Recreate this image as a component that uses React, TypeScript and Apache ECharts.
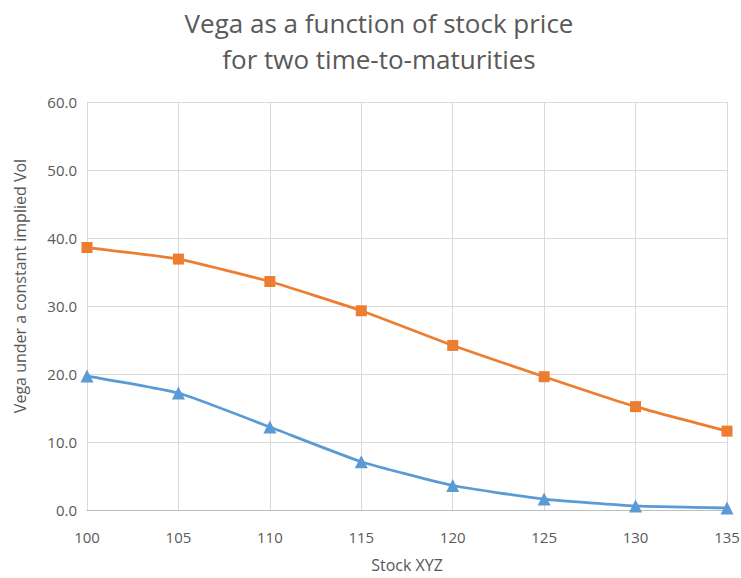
import React, { useEffect, useRef } from "react";
import * as echarts from "echarts";

const categories = ["100", "105", "110", "115", "120", "125", "130", "135"];
const longMaturity = [38.6, 36.9, 33.6, 29.3, 24.2, 19.6, 15.2, 11.6];
const shortMaturity = [19.7, 17.2, 12.2, 7.1, 3.6, 1.6, 0.6, 0.3];
const yTicks = { min: 0, max: 60, interval: 10 };

export default function App() {
  const ref = useRef<HTMLDivElement>(null);
  useEffect(() => {
    const chart = echarts.init(ref.current!, null, { renderer: "svg" });
    const font = "'Open Sans', 'Liberation Sans', sans-serif";
    chart.setOption({
      animation: false,
      backgroundColor: "#ffffff",
      title: {
        text: "Vega as a function of stock price\nfor two time-to-maturities",
        left: 374,
        textAlign: "center",
        top: 0,
        textStyle: {
          fontFamily: font,
          fontSize: 26,
          fontWeight: "normal",
          color: "#595959",
          lineHeight: 36,
        },
      },
      graphic: [
        {
          type: "text",
          x: 20,
          y: 286,
          rotation: Math.PI / 2,
          style: {
            text: "Vega under a constant implied Vol",
            fontFamily: font,
            fontSize: 16,
            fill: "#595959",
            align: "center",
            verticalAlign: "middle",
          },
        },
      ],
      grid: { left: 87, right: 14, top: 102, bottom: 68, containLabel: false, outerBoundsMode: "none" },
      xAxis: {
        type: "category",
        data: categories,
        boundaryGap: false,
        name: "Stock XYZ",
        nameLocation: "middle",
        nameGap: 47,
        nameTextStyle: { fontFamily: font, fontSize: 16, color: "#595959" },
        axisLine: { show: true, lineStyle: { color: "#bfbfbf", width: 1 } },
        axisTick: { show: false },
        axisLabel: { fontFamily: font, fontSize: 15, color: "#595959", margin: 19 },
        splitLine: { show: true, lineStyle: { color: "#d9d9d9", width: 1 } },
      },
      yAxis: {
        type: "value",
        min: yTicks.min,
        max: yTicks.max,
        interval: yTicks.interval,
        axisLine: { show: false },
        axisTick: { show: false },
        axisLabel: {
          fontFamily: font,
          fontSize: 15,
          color: "#595959",
          margin: 10,
          formatter: (v: number) => v.toFixed(1),
        },
        splitLine: { show: true, lineStyle: { color: "#d9d9d9", width: 1 } },
      },
      series: [
        {
          type: "line",
          data: longMaturity,
          smooth: 0.15,
          symbol: "rect",
          symbolSize: 11,
          lineStyle: { color: "#ED7D31", width: 2.75 },
          itemStyle: { color: "#ED7D31" },
        },
        {
          type: "line",
          data: shortMaturity,
          smooth: 0.15,
          symbol: "triangle",
          symbolSize: 13,
          lineStyle: { color: "#5B9BD5", width: 2.75 },
          itemStyle: { color: "#5B9BD5" },
        },
      ],
    });
    return () => chart.dispose();
  }, []);
  return (
    <div
      ref={ref}
      style={{ position: "absolute", left: 0, top: 0, width: 741, height: 578 }}
    />
  );
}
